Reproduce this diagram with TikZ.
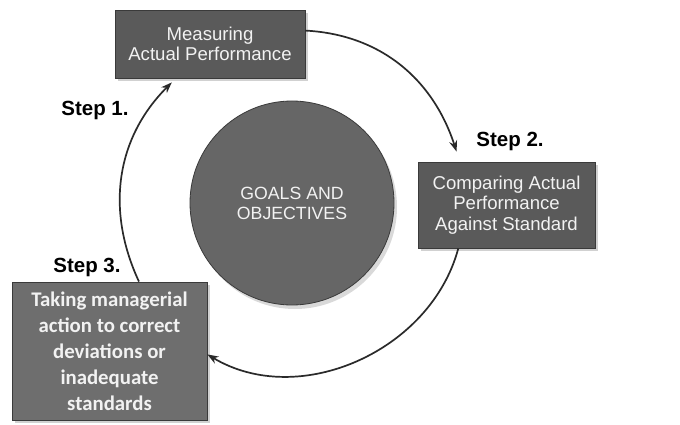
\documentclass[tikz,border=0pt]{standalone}
\usepackage{fontspec}
\setmainfont{Liberation Sans}
\newfontfamily\carl{Carlito}
\usetikzlibrary{arrows.meta,calc,shadows}
\definecolor{boxfill}{HTML}{5A5A5A}
\definecolor{boxthreefill}{HTML}{6E6E6E}
\definecolor{circfill}{HTML}{666666}
\definecolor{edgecol}{HTML}{3A3A3A}
\definecolor{txtcol}{HTML}{F2F2F2}
\definecolor{arrowcol}{HTML}{2A2A2A}
\tikzset{
  stepbox/.style={rectangle, fill=boxfill, draw=edgecol, line width=0.8pt, inner sep=0pt,
    text=txtcol, align=center, font=\fontsize{18.6}{20.5}\selectfont,
    drop shadow={shadow xshift=3pt, shadow yshift=-3pt, fill=black, opacity=0.18}},
  goalcirc/.style={circle, fill=circfill, draw=edgecol, line width=0.8pt, inner sep=0pt,
    minimum size=204pt, text=txtcol, align=center, font=\fontsize{17.7}{20}\selectfont,
    drop shadow={shadow xshift=3pt, shadow yshift=-4pt, fill=black, opacity=0.15}},
  steplabel/.style={font=\fontsize{20.5}{23}\bfseries\selectfont, text=black, inner sep=0pt},
  cyc/.style={draw=arrowcol, line width=1.7pt, -{Stealth[length=11pt,width=8pt]}},
}
\begin{document}
\begin{tikzpicture}[x=1pt,y=-1pt]
\useasboundingbox[fill=white] (0,0) rectangle (680,425);
\node[stepbox, minimum width=190pt, minimum height=68pt] (b1) at (210,44) {Measuring\\Actual Performance};
\node[stepbox, minimum width=177pt, minimum height=86pt] (b2) at (506.5,205) {Comparing Actual\\Performance\\Against Standard};
\node[stepbox, fill=boxthreefill, minimum width=195pt, minimum height=138pt,
  font=\carl\bfseries\fontsize{20.8}{26}\selectfont] (b3) at (109.5,351)
  {Taking managerial\\action to correct\\deviations or\\inadequate\\standards};
\node[goalcirc] (g) at (292,203) {GOALS AND\\OBJECTIVES};
\node[steplabel] (s1) at (95,110) {Step 1.};
\node[steplabel] (s2) at (510,141) {Step 2.};
\node[steplabel] (s3) at (87,267) {Step 3.};
\coordinate (e1) at ($(b2.139)+(0,-10)$);
\coordinate (e3) at ($(b1.-138)+(0,4)$);
\draw[cyc] (b1.8) to[out=-3, in=108] (e1);
\draw[cyc] (b2.222) to[out=-105, in=-31] (b3.-2);
\draw[cyc] (b3.67) to[out=115, in=225] (e3);
\end{tikzpicture}
\end{document}
